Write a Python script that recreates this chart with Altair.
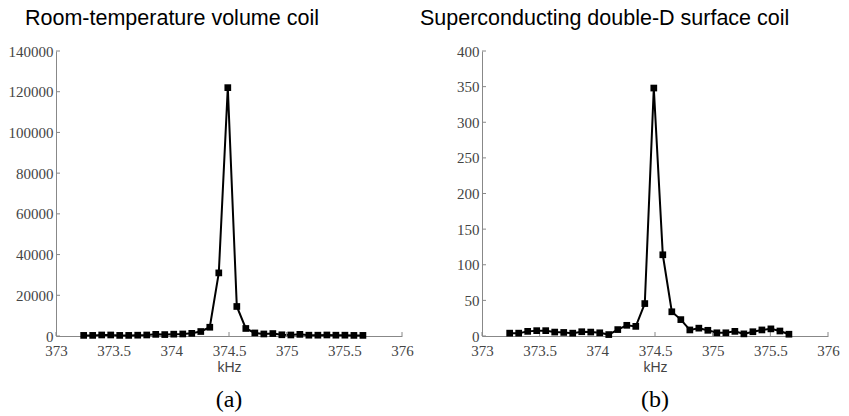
import altair as alt
import pandas as pd

freq_start = 373.24
freq_step = 0.0781
n_pts = 32
freq = [round(freq_start + i * freq_step, 4) for i in range(n_pts)]

vol_coil = [300, 300, 500, 500, 300, 300, 400, 500, 800, 700, 900, 1000, 1300, 2200, 4300, 31000,
            122000, 14500, 3700, 1500, 1000, 1200, 600, 500, 800, 400, 400, 500, 400, 400, 300, 300]
sc_coil = [4, 4, 6.5, 7.5, 7.5, 5.5, 5, 4, 6, 5.5, 4.5, 2, 9, 15, 13.5, 45.5,
           348, 114, 34, 23, 8.5, 11, 8, 4.5, 4.5, 6.5, 3, 6, 8.5, 10, 7, 2.5]

x_ticks = [373, 373.5, 374, 374.5, 375, 375.5, 376]
y_ticks_a = [0, 20000, 40000, 60000, 80000, 100000, 120000, 140000]
y_ticks_b = [0, 50, 100, 150, 200, 250, 300, 350, 400]

titles = ["Room-temperature volume coil", "Superconducting double-D surface coil"]
panel_labels = ["(a)", "(b)"]

W, H = 346, 285
AXIS_GRAY = "#888888"
LABEL_GRAY = "#444444"
SERIF = "Liberation Serif"
SANS = "Liberation Sans"


def panel(values, yticks, ymax, title, plabel, title_dx):
    df = pd.DataFrame({"f": freq, "v": values})
    xs = alt.Scale(domain=[373, 376], nice=False, zero=False)
    ys = alt.Scale(domain=[0, ymax], nice=False)
    xaxis = alt.Axis(values=x_ticks, format="~f", tickSize=0, grid=False,
                     domainColor=AXIS_GRAY, labelFont=SERIF,
                     labelFontSize=15, labelColor=LABEL_GRAY, labelPadding=7,
                     titleFont=SANS, titleFontSize=14,
                     titleFontWeight="normal", titleColor=LABEL_GRAY,
                     titlePadding=2, labelFlush=False)
    yaxis = alt.Axis(values=yticks, format="d", tickSize=0, grid=False,
                     domainColor=AXIS_GRAY, labelFont=SERIF,
                     labelFontSize=15, labelColor=LABEL_GRAY, labelPadding=3,
                     labelFlush=False)
    X = lambda f: alt.X(f, scale=xs, title="kHz", axis=xaxis)
    Y = lambda f: alt.Y(f, scale=ys, title=None, axis=yaxis)
    base = alt.Chart(df)
    line = base.mark_line(color="black", strokeWidth=2).encode(x=X("f:Q"), y=Y("v:Q"))
    pts = base.mark_point(shape="square", filled=True, color="black", size=45, opacity=1).encode(
        x=X("f:Q"), y=Y("v:Q"))
    yt = alt.Chart(pd.DataFrame({"t": yticks})).mark_rule(color=AXIS_GRAY, strokeWidth=1).encode(
        y=Y("t:Q"), x=alt.value(0), x2=alt.value(4))
    xt = alt.Chart(pd.DataFrame({"t": x_ticks})).mark_rule(color=AXIS_GRAY, strokeWidth=1).encode(
        x=X("t:Q"), y=alt.value(H), y2=alt.value(H - 4))
    lab = alt.Chart(pd.DataFrame({"l": [plabel]})).mark_text(
        font=SERIF, fontSize=24, color="black", baseline="middle", align="center"
    ).encode(text="l:N", x=alt.value(W / 2), y=alt.value(H + 64))
    ttl = alt.Chart(pd.DataFrame({"l": [title]})).mark_text(
        font=SANS, fontSize=21.5, color="black", baseline="middle", align="left"
    ).encode(text="l:N", x=alt.value(title_dx), y=alt.value(-32))
    return alt.layer(line, yt, xt, pts, lab, ttl).properties(width=W, height=H)


left = panel(vol_coil, y_ticks_a, 140000, titles[0], panel_labels[0], -31)
right = panel(sc_coil, y_ticks_b, 400, titles[1], panel_labels[1], -62)

chart = alt.hconcat(left, right, spacing=6).configure(
    background="white", padding=0, view=alt.ViewConfig(stroke=None)
).configure_axis(labelFont=SERIF, labelFontSize=15)

chart.save("out.html", embed_options={"renderer": "svg", "actions": False})
